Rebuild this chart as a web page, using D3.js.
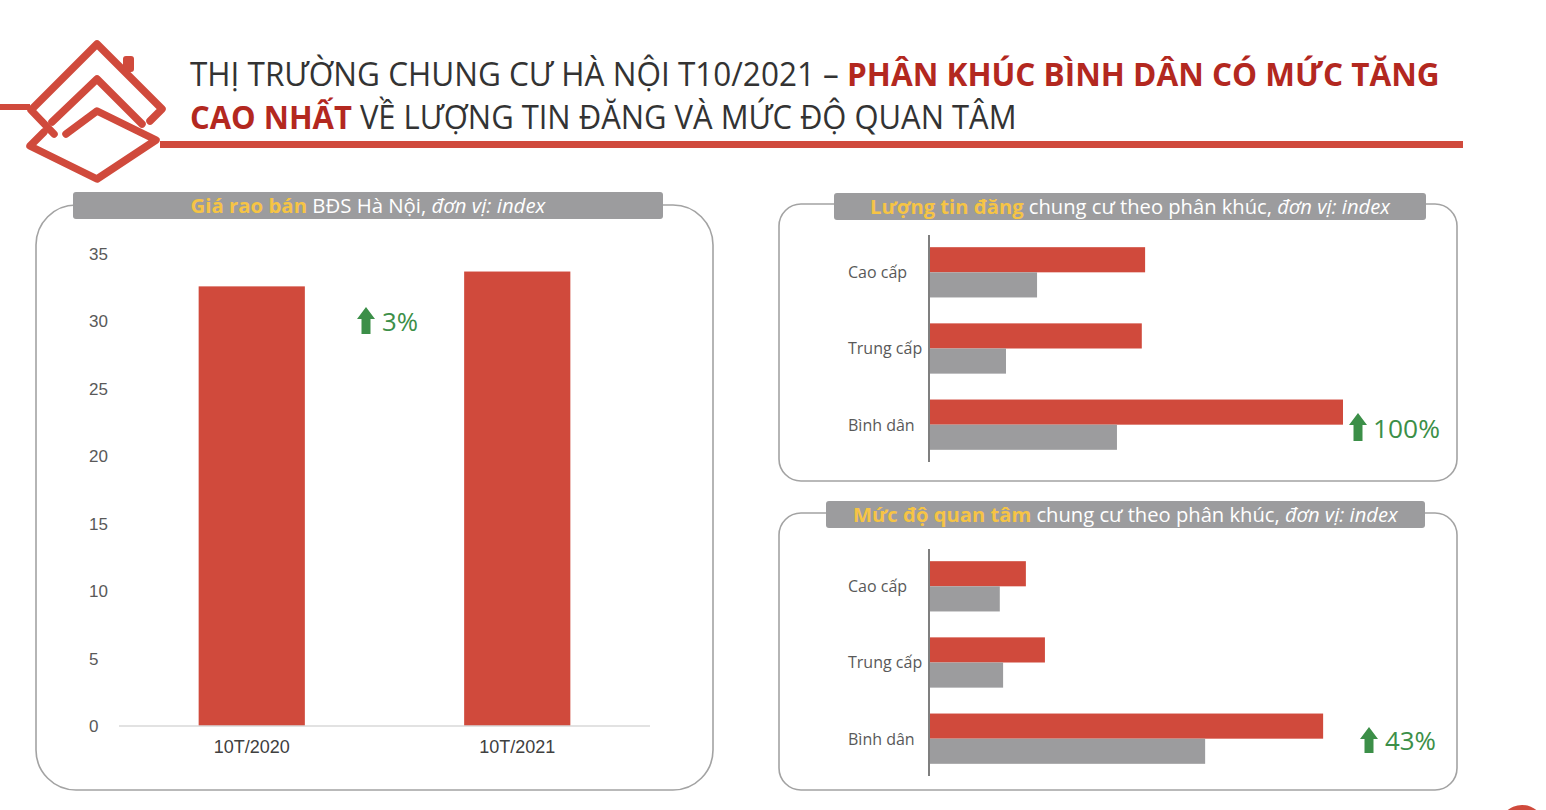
<html>
<head>
    <script src="https://d3js.org/d3.v7.min.js"></script>
    <style>
        body { margin: 0; background: #fff; }
    </style>
</head>

<body>
    <svg id="page"></svg>

    <script>
        // data
        var Years = ["10T/2020", "10T/2021"];
        var PriceIndex = [32.6, 33.7];
        var PriceTicks = [0, 5, 10, 15, 20, 25, 30, 35];

        var Segments = ["Cao cấp", "Trung cấp", "Bình dân"];
        var Periods = ["2021", "2020"];
        var Listings2021 = [52.2, 51.4, 100];
        var Listings2020 = [26.1, 18.6, 45.4];
        var Interest2021 = [23.4, 28.0, 95.2];
        var Interest2020 = [17.1, 17.9, 66.7];
        var Growth = ["3%", "100%", "43%"];

        var W = 1546, H = 810;
        var RED = "#d04a3c", DARKRED = "#b3281f", GREY = "#9c9c9e", GREEN = "#3c8f48";
        var FONT = "'Open Sans', sans-serif";

        var svg = d3.select("#page").attr("width", W).attr("height", H);

        // squeeze a text element horizontally so it spans the given width
        function fit(t, x, y, width)
        {
            var w = t.node().getComputedTextLength();
            t.attr("transform", "translate(" + x + "," + y + ") scale(" + (width / w) + ",1)");
            return t;
        }

        // ---- header: logo, title, red rule
        var logo = svg.append("g")
            .attr("fill", "none").attr("stroke", RED).attr("stroke-width", 7.5)
            .attr("stroke-linejoin", "round").attr("stroke-linecap", "round");
        var line = d3.line();
        // roof
        logo.append("path").attr("d", line([[54, 134], [31, 110], [97, 44], [162, 109], [150, 121]]));
        // middle chevron
        logo.append("path").attr("d", line([[52, 122], [97, 79], [142, 124]]));
        // lower loop
        logo.append("path").attr("d", line([[66, 134], [97, 111], [156, 140], [97, 179], [30, 146], [44, 132]]));
        logo.append("rect").attr("x", 123).attr("y", 56).attr("width", 11).attr("height", 16)
            .attr("rx", 3).attr("fill", RED).attr("stroke", "none");

        svg.append("rect").attr("x", 0).attr("y", 104).attr("width", 30).attr("height", 6).attr("fill", RED);
        svg.append("rect").attr("x", 160).attr("y", 141).attr("width", 1303).attr("height", 7).attr("fill", RED);

        var t1 = svg.append("text").attr("font-family", FONT).attr("font-size", 32);
        t1.append("tspan").attr("fill", "#333").text("THỊ TRƯỜNG CHUNG CƯ HÀ NỘI T10/2021 – ");
        t1.append("tspan").attr("fill", DARKRED).attr("font-weight", "bold").text("PHÂN KHÚC BÌNH DÂN CÓ MỨC TĂNG");
        fit(t1, 190, 86, 1250);

        var t2 = svg.append("text").attr("font-family", FONT).attr("font-size", 32);
        t2.append("tspan").attr("fill", DARKRED).attr("font-weight", "bold").text("CAO NHẤT ");
        t2.append("tspan").attr("fill", "#333").text("VỀ LƯỢNG TIN ĐĂNG VÀ MỨC ĐỘ QUAN TÂM");
        fit(t2, 190, 129, 827);

        // ---- panels
        function panel(x, y, w, h, r, hx, hy, hw, parts)
        {
            svg.append("rect").attr("x", x).attr("y", y).attr("width", w).attr("height", h)
                .attr("rx", r).attr("fill", "#fff").attr("stroke", "#a3a3a3").attr("stroke-width", 1.6);
            svg.append("rect").attr("x", hx).attr("y", hy).attr("width", hw).attr("height", 27)
                .attr("rx", 3).attr("fill", GREY);
            var t = svg.append("text").attr("font-family", FONT).attr("font-size", 20);
            t.append("tspan").attr("fill", "#f6c445").attr("font-weight", "bold").text(parts[0]);
            t.append("tspan").attr("fill", "#fff").text(parts[1]);
            t.append("tspan").attr("fill", "#fff").attr("font-style", "italic").text(parts[2]);
            var target = parts[3];
            fit(t, hx + (hw - target) / 2, hy + 21, target);
        }

        panel(36, 205, 677, 585, 40, 73, 192, 590, ["Giá rao bán", " BĐS Hà Nội, ", "đơn vị: index", 355]);
        panel(779, 204, 678, 277, 22, 834, 193, 592, ["Lượng tin đăng", " chung cư theo phân khúc, ", "đơn vị: index", 520]);
        panel(779, 513, 678, 277, 22, 826, 501, 599, ["Mức độ quan tâm", " chung cư theo phân khúc, ", "đơn vị: index", 545]);

        // ---- left: price index bars
        var x = d3.scaleBand().domain(Years).range([119, 650]).paddingInner(0.6).paddingOuter(0.3);
        var y = d3.scaleLinear().domain([0, 35]).range([726, 254]);

        var left = svg.append("g");
        left.selectAll(".bar").data(PriceIndex).enter().append("rect").classed("bar", true)
            .attr("x", function(d, i){ return x(Years[i]); })
            .attr("width", x.bandwidth())
            .attr("y", function(d){ return y(d); })
            .attr("height", function(d){ return y(0) - y(d); })
            .attr("fill", RED);

        left.append("line").attr("x1", 119).attr("x2", 650).attr("y1", y(0)).attr("y2", y(0))
            .attr("stroke", "#d9d9d9").attr("stroke-width", 1.5);

        var yAxis = left.append("g").attr("transform", "translate(89,0)")
            .call(d3.axisLeft(y).tickValues(PriceTicks).tickSize(0).tickPadding(0));
        yAxis.select(".domain").remove();
        yAxis.selectAll("text").attr("text-anchor", "start").attr("x", 0)
            .attr("font-family", "'Liberation Sans', Arial, sans-serif").attr("font-size", 17).attr("fill", "#595959");

        var xAxis = left.append("g").attr("transform", "translate(0," + y(0) + ")")
            .call(d3.axisBottom(x).tickSize(0).tickPadding(14));
        xAxis.select(".domain").remove();
        xAxis.selectAll("text").attr("font-family", "'Liberation Sans', Arial, sans-serif")
            .attr("font-size", 18).attr("fill", "#404040");

        // ---- right: horizontal grouped bars
        function hbars(top, bottom, a, b)
        {
            var g = svg.append("g");
            var yb = d3.scaleBand().domain(Segments).range([top, bottom]).paddingInner(0.34).paddingOuter(0.16);
            var ys = d3.scaleBand().domain(Periods).range([0, yb.bandwidth()]);
            var xs = d3.scaleLinear().domain([0, 100]).range([929, 1343]);
            var rows = Segments.map(function(s, i){ return { seg: s, vals: [a[i], b[i]] }; });
            var grp = g.selectAll(".row").data(rows).enter().append("g")
                .attr("transform", function(d){ return "translate(0," + yb(d.seg) + ")"; });
            grp.selectAll("rect").data(function(d){ return d.vals; }).enter().append("rect")
                .attr("x", xs(0))
                .attr("y", function(d, i){ return ys(Periods[i]); })
                .attr("height", ys.bandwidth())
                .attr("width", function(d){ return xs(d) - xs(0); })
                .attr("fill", function(d, i){ return i == 0 ? RED : GREY; });
            grp.append("text").attr("x", 848).attr("y", yb.bandwidth() / 2 + 6)
                .attr("font-family", FONT).attr("font-size", 16).attr("fill", "#595959")
                .text(function(d){ return d.seg; });
            g.append("line").attr("x1", 929).attr("x2", 929).attr("y1", top).attr("y2", bottom)
                .attr("stroke", "#7f7f7f").attr("stroke-width", 2);
            return xs;
        }
        hbars(235, 462, Listings2021, Listings2020);
        hbars(549, 776, Interest2021, Interest2020);

        // ---- growth notes
        function arrow(cx, top, bottom)
        {
            var p = d3.path();
            p.moveTo(cx, top);
            p.lineTo(cx + 9, top + 12);
            p.lineTo(cx + 4.5, top + 12);
            p.lineTo(cx + 4.5, bottom);
            p.lineTo(cx - 4.5, bottom);
            p.lineTo(cx - 4.5, top + 12);
            p.lineTo(cx - 9, top + 12);
            p.closePath();
            svg.append("path").attr("d", p.toString()).attr("fill", GREEN);
        }
        function note(txt, cx, top, bottom, tx, width)
        {
            arrow(cx, top, bottom);
            var t = svg.append("text").attr("font-family", FONT).attr("font-size", 25).attr("fill", GREEN).text(txt);
            fit(t, tx, bottom - 3, width);
        }
        note(Growth[0], 366, 307, 334, 382, 36);
        note(Growth[1], 1358, 413, 441, 1373, 67);
        note(Growth[2], 1369, 727, 753, 1385, 51);

        // page number badge
        svg.append("circle").attr("cx", 1522).attr("cy", 828).attr("r", 23).attr("fill", RED);
    </script>
</body>
</html>
